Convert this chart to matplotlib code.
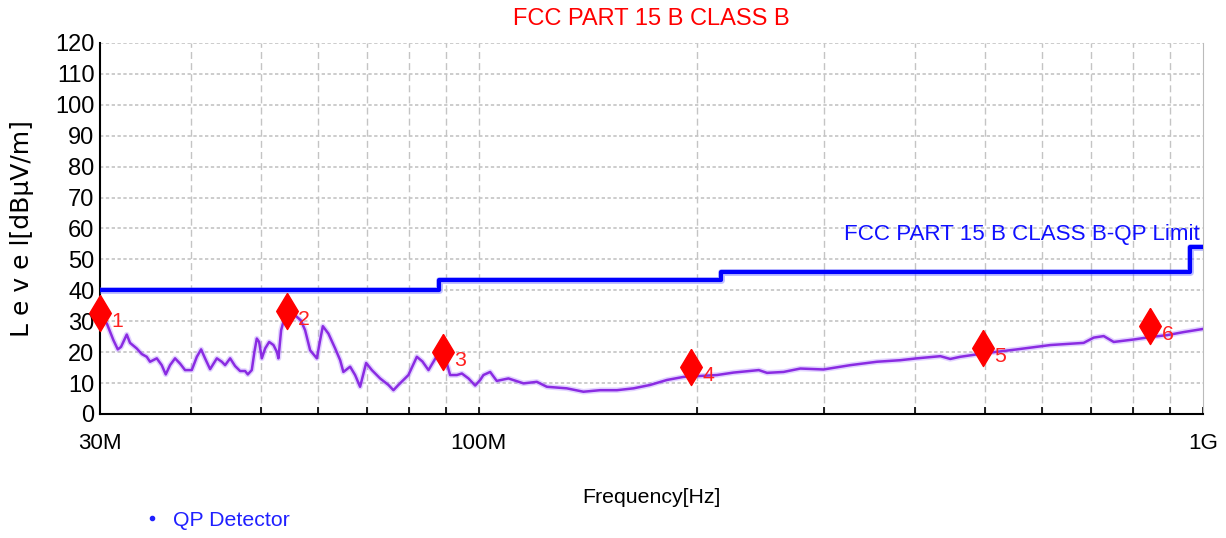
import numpy as np
import matplotlib
matplotlib.use('Agg')
import matplotlib.pyplot as plt
from matplotlib import font_manager
from matplotlib.lines import Line2D
from matplotlib.path import Path

installed = {f.name for f in font_manager.fontManager.ttflist}
narrow = 'Liberation Sans Narrow' if 'Liberation Sans Narrow' in installed else 'Liberation Sans'
plt.rcParams['font.family'] = [narrow, 'DejaVu Sans']
k = 1.0 if narrow == 'Liberation Sans Narrow' else 0.85  # shrink if no narrow face

# QP trace (MHz, dBuV/m)
freq = [30.0, 30.65, 31.3, 31.74, 32.07, 32.66, 33.0, 33.71, 34.25, 34.8,
        35.17, 35.93, 36.5, 36.97, 37.48, 38.08, 38.69, 39.31, 40.16, 40.81,
        41.37, 41.89, 42.57, 43.49, 44.18, 44.65, 45.37, 46.09, 46.83, 47.58,
        47.99, 48.6, 49.01, 49.38, 49.75, 50.18, 50.71, 51.36, 52.07, 52.64,
        52.9, 53.35, 53.74, 54.6, 55.78, 56.8, 57.58, 58.51, 59.77, 60.4,
        60.92, 62.01, 63.35, 64.37, 65.03, 66.44, 67.5, 68.58, 69.91, 71.19,
        73.09, 75.04, 76.25, 77.47, 79.97, 82.14, 83.6, 85.24, 87.55, 88.95,
        90.38, 91.31, 93.29, 94.78, 96.79, 98.88, 100.47, 101.5, 103.7, 105.9,
        109.9, 115.3, 120.3, 124.2, 132.3, 139.5, 147.1, 155.2, 163.6, 172.5,
        181.9, 191.8, 202.3, 213.3, 224.9, 243.6, 250.1, 263.6, 278.0, 299.3,
        325.9, 354.8, 382.1, 402.8, 433.9, 447.8, 462.3, 497.9, 553.8, 615.6,
        684.3, 706.6, 729.4, 753.0, 802.6, 846.2, 892.1, 940.8, 1000.0]
level = [31.5, 29.3, 23.9, 20.9, 21.7, 25.7, 23.0, 21.2, 19.4, 18.5,
         16.9, 18.0, 15.8, 12.8, 15.8, 18.0, 16.3, 14.2, 14.2, 18.5,
         20.9, 18.0, 14.5, 18.0, 16.9, 15.8, 18.0, 15.5, 13.9, 13.9,
         12.8, 14.2, 20.1, 24.4, 23.3, 18.0, 21.2, 23.3, 22.3, 20.1,
         18.0, 27.1, 29.8, 31.4, 31.9, 30.3, 27.1, 20.6, 18.0, 23.9,
         28.4, 26.0, 21.2, 17.4, 13.6, 15.3, 12.6, 8.8, 16.5, 14.2,
         11.5, 9.4, 7.7, 9.4, 12.6, 18.5, 17.0, 14.2, 18.8, 19.5,
         16.3, 12.6, 12.6, 13.1, 11.5, 9.2, 11.0, 12.6, 13.6, 10.7,
         11.5, 9.9, 10.4, 8.8, 8.3, 7.2, 7.7, 7.7, 8.3, 9.4,
         11.0, 12.0, 12.3, 12.6, 13.4, 14.2, 13.3, 13.6, 14.7, 14.4,
         15.8, 16.9, 17.4, 18.0, 18.7, 17.8, 18.5, 19.6, 20.9, 22.3,
         23.0, 24.7, 25.2, 23.3, 24.1, 24.9, 25.5, 26.5, 27.5]

# limit line breakpoints
limit_freq = [30, 88, 216, 960, 1000]
limit_level = [40, 43.5, 46, 54, 54]

# markers
mark_freq = [30.0, 54.4, 89.3, 196.6, 497.0, 846.0]
mark_level = [32.6, 33.2, 20.1, 15.2, 21.2, 28.4]
mark_names = ['1', '2', '3', '4', '5', '6']

fig = plt.figure(figsize=(12.26, 5.38), dpi=100)
ax = fig.add_axes([0.0816, 0.2305, 0.8996, 0.6896])

ax.set_xscale('log')
ax.set_xlim(30, 1000)
ax.set_ylim(0, 120)

minor = [40, 50, 60, 70, 80, 90, 200, 300, 400, 500, 600, 700, 800, 900]
ax.set_xticks([30, 100, 1000])
ax.set_xticklabels(['30M', '100M', '1G'])
ax.set_xticks(minor, minor=True)
ax.xaxis.set_minor_formatter(plt.NullFormatter())
ax.set_yticks(np.arange(0, 121, 10))

for f in minor + [100]:
    ax.axvline(f, color='#c4c4c4', lw=1, ls=(0, (5, 3)), zorder=0)
for v in range(10, 121, 10):
    ax.axhline(v, color='#c4c4c4', lw=1.2, ls=(0, (2, 1.5)), zorder=0)

ax.tick_params(axis='x', which='both', direction='in', length=5, width=1.2,
               labelsize=19 * k, pad=14)
ax.tick_params(axis='y', length=0, labelsize=20 * k, pad=4)
ax.spines['top'].set_visible(False)
ax.spines['right'].set_color('#bbbbbb')
ax.spines['left'].set_linewidth(1.5)
ax.spines['bottom'].set_linewidth(1.5)

# trace
ax.plot(freq, level, color='#a070ff', lw=4, alpha=0.3, zorder=2)
ax.plot(freq, level, color='#8a2be2', lw=1.8, zorder=3)

# limit
ax.step(limit_freq, limit_level, where='post', color='#6060ff', lw=5, alpha=0.4, zorder=3)
ax.step(limit_freq, limit_level, where='post', color='#0000ff', lw=3, zorder=4)

diamond = Path([(0, 1), (0.6, 0), (0, -1), (-0.6, 0), (0, 1)])
ax.plot(mark_freq, mark_level, linestyle='none', marker=diamond, markersize=26,
        color='#ff0000', zorder=5, clip_on=False)
for f, v, n in zip(mark_freq, mark_level, mark_names):
    ax.annotate(n, (f, v), xytext=(8, -6), textcoords='offset points',
                color='#ff2020', fontsize=18 * k, va='center', ha='left', zorder=6)

ax.text(0.997, 54.5, 'FCC PART 15 B CLASS B-QP Limit', transform=ax.get_yaxis_transform(),
        color='#1010ff', fontsize=19 * k, ha='right', va='bottom')

fig.text(0.531, 0.965, 'FCC PART 15 B CLASS B', color='#ff0000', fontsize=20 * k,
         ha='center', va='center')
fig.text(0.531, 0.076, 'Frequency[Hz]', color='black', fontsize=18 * k,
         ha='center', va='center')
fig.text(0.018, 0.575, 'L e v e l[dBµV/m]', color='black', fontsize=18,
         rotation=90, ha='center', va='center', family=['DejaVu Sans'])

handle = Line2D([], [], color='#2020ff', marker='.', markersize=6, linestyle='none')
fig.legend([handle], ['QP Detector'], loc='center left', bbox_to_anchor=(0.098, 0.033),
           frameon=False, fontsize=18 * k, labelcolor='#2020ff', handletextpad=0.4,
           handlelength=1.2)

fig.savefig('out.png', dpi=100)
